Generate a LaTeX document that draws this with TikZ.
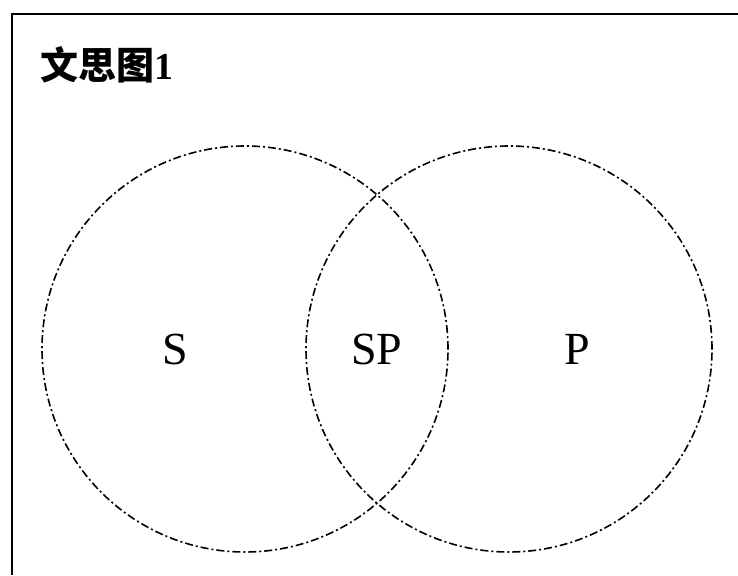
\documentclass[tikz,border=0pt]{standalone}
\usepackage{fontspec}
\setmainfont{Liberation Serif}
\newfontfamily\cjk{Noto Sans CJK SC}
\begin{document}
\begin{tikzpicture}[x=1pt,y=-1pt,
  venn/.style={circle,draw=black,line width=1.6pt,minimum size=406pt,inner sep=0pt,
    dash pattern=on 8pt off 3pt on 2pt off 3pt},
  lbl/.style={font=\fontsize{46}{50}\selectfont,inner sep=0pt},
  frame/.style={draw=black,line width=2.5pt}]
\useasboundingbox (0,0) rectangle (738,575);
\fill[white] (0,0) rectangle (738,575);
\coordinate (tl) at (12,14);
\coordinate (tr) at (738,14);
\coordinate (bl) at (12,575);
\draw[frame] (tr) -- (tl) -- (bl);
\node[anchor=base west,inner sep=0pt,font=\bfseries\fontsize{38}{40}\selectfont] (title) at (40,80) {{\cjk 文思图}1};
\node[venn] (S) at (245,349) {};
\node[venn] (P) at (509,349) {};
\node[lbl] (ls) at (175,349) {S};
\node[lbl] (lsp) at (377,349) {SP};
\node[lbl] (lp) at (577,349) {P};
\end{tikzpicture}
\end{document}
